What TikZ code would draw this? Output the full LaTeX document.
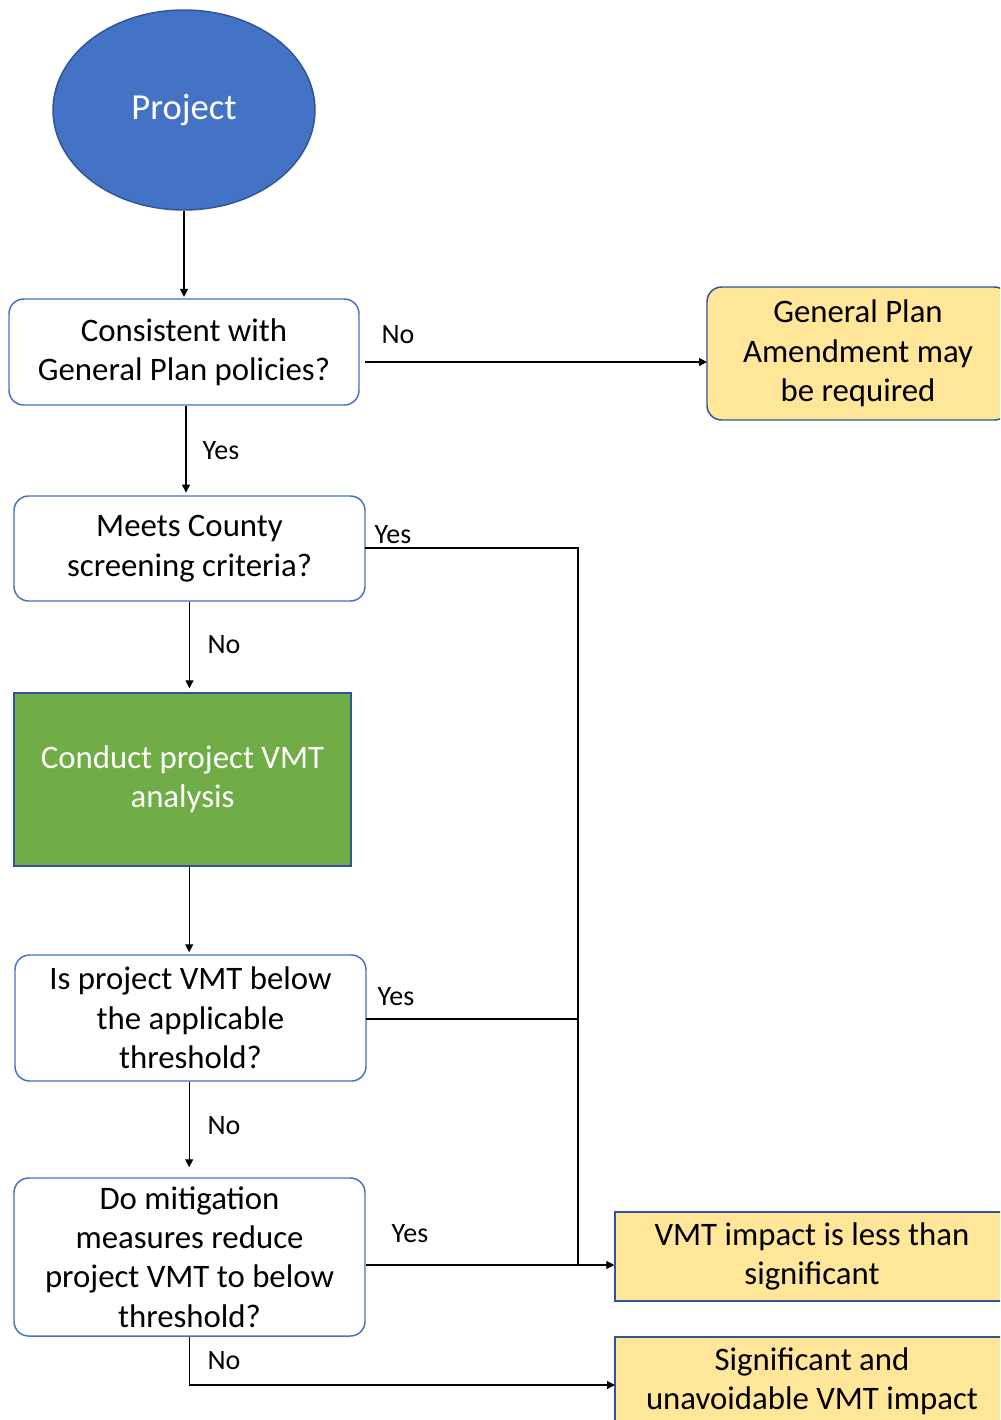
\documentclass[tikz,border=0pt]{standalone}
\usepackage{fontspec}
\setmainfont{Carlito}
\usetikzlibrary{arrows.meta,shapes.geometric}
\definecolor{bordblue}{HTML}{4472C4}
\definecolor{darkblue}{HTML}{2F5597}
\definecolor{projblue}{HTML}{4472C4}
\definecolor{vgreen}{HTML}{70AD47}
\definecolor{vyellow}{HTML}{FFE699}
\tikzset{
  px/.style={x=0.75pt,y=-0.75pt},
  box/.style={draw=bordblue,line width=1.1pt,rounded corners=11pt,fill=white,align=center,inner sep=0pt,
    font=\fontsize{24.6}{29.6}\selectfont},
  ybox/.style={draw=darkblue,line width=1.1pt,fill=vyellow,align=center,inner sep=0pt,
    font=\fontsize{24.6}{29.6}\selectfont},
  arr/.style={line width=0.9pt,-{Triangle[length=6pt,width=6pt]}},
  ln/.style={line width=0.9pt},
  lab/.style={font=\fontsize{21}{24}\selectfont,inner sep=0pt}
}
\begin{document}
\begin{tikzpicture}[px]
\useasboundingbox (0,0) rectangle (1000,1420);
\clip (0,0) rectangle (1000,1420);
\node[ellipse,draw=darkblue,line width=1.1pt,fill=projblue,text=white,minimum width=196.5pt,minimum height=150pt,inner sep=0pt,font=\fontsize{27.5}{32}\selectfont] (proj) at (184,110) {Project};
\node[box,minimum width=262.5pt,minimum height=79.5pt] (b1) at (184,352) {Consistent with\\General Plan policies?};
\node[ybox,rounded corners=11pt,minimum width=226.5pt,minimum height=99.75pt] (gp) at (858,353.5) {General Plan\\Amendment may\\be required};
\node[box,minimum width=263.25pt,minimum height=78.75pt] (b2) at (189.5,548.5) {Meets County\\screening criteria?};
\node[draw=darkblue,line width=1.1pt,fill=vgreen,text=white,align=center,inner sep=0pt,minimum width=252.75pt,minimum height=129.75pt,font=\fontsize{24.6}{29.6}\selectfont] (vmt) at (182.5,779.5) {Conduct project VMT\\analysis};
\node[box,minimum width=263.25pt,minimum height=94.5pt] (b3) at (190.5,1018) {Is project VMT below\\the applicable\\threshold?};
\node[box,minimum width=263.25pt,minimum height=118.5pt] (b4) at (189.5,1257) {Do mitigation\\measures reduce\\project VMT to below\\threshold?};
\node[ybox,minimum width=295.5pt,minimum height=66.75pt] (less) at (812,1256.5) {VMT impact is less than\\significant};
\node[ybox,minimum width=295.5pt,minimum height=66pt] (sig) at (812,1381) {Significant and\\unavoidable VMT impact};
\coordinate (j) at (578,1265);
\coordinate (sigin) at (615,1385);
\coordinate (gpin) at (707,362);
\coordinate (b1out) at (365,362);
\coordinate (b2yes) at (365,548);
\coordinate (b3yes) at (366,1019);
% connectors
\draw[arr] (proj.south) -- ([yshift=1pt]b1.north);
\draw[arr] (b1out) -- (gpin);
\node[lab] (lno1) at (398,335) {No};
\draw[arr] ([xshift=1.5pt]b1.south) -- ([xshift=1.5pt,yshift=2pt]b1.south |- b2.north);
\node[lab] (lyes1) at (221,451) {Yes};
\draw[ln] (b2yes) -| (j);
\node[lab] (lyes2) at (393,535) {Yes};
\draw[arr] (b2.south) -- ([yshift=3pt]b2.south |- vmt.north);
\node[lab] (lno2) at (224,645) {No};
\draw[arr] ([xshift=5pt]vmt.south) -- ([xshift=5pt,yshift=1.5pt]vmt.south |- b3.north);
\draw[ln] (b3yes) -- (b3yes -| j);
\node[lab] (lyes3) at (396,997) {Yes};
\draw[arr] ([xshift=-1pt]b3.south) -- ([xshift=-1pt,yshift=7.5pt]b3.south |- b4.north);
\node[lab] (lno3) at (224,1126) {No};
\draw[arr] (b4.east |- j) -- (less.west |- j);
\node[lab] (lyes4) at (410,1234) {Yes};
\draw[arr] (b4.south) |- (sigin);
\node[lab] (lno4) at (224,1361) {No};
\end{tikzpicture}
\end{document}
